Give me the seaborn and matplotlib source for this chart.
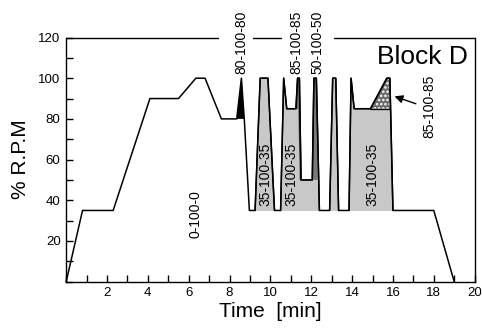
# Block D speed profile: % RPM against time, with the test blocks shaded
import numpy as np
import pandas as pd
import matplotlib
matplotlib.use("Agg")
import matplotlib.pyplot as plt
import seaborn as sns

sns.set_theme(style="white")
plt.rcParams['font.family'] = ['Liberation Sans', 'DejaVu Sans']
plt.rcParams['hatch.color'] = 'white'
plt.rcParams['hatch.linewidth'] = 1.2
for k in ['text.color', 'axes.labelcolor', 'xtick.color', 'ytick.color']:
    plt.rcParams[k] = 'black'

# profile (time in min, % RPM)
time = [0, 0.8, 2.3, 4.1, 5.5, 6.35, 6.8, 7.6, 8.35, 8.58, 8.72, 8.97,
        9.25, 9.5, 9.88, 10.2, 10.5, 10.65, 10.8, 11.25, 11.33, 11.42, 11.5,
        12.05, 12.13, 12.25, 12.4, 12.9, 13.05, 13.2, 13.34, 13.85, 13.95,
        14.1, 14.9, 15.7, 15.85, 16.0, 18.0, 19.0]
rpm = [0, 35, 35, 90, 90, 100, 100, 80, 80, 100, 80, 35,
       35, 100, 100, 35, 35, 100, 85, 85, 100, 100, 50,
       50, 100, 100, 35, 35, 100, 100, 35, 35, 100,
       85, 85, 100, 100, 35, 35, 0]

# index ranges of the shaded 35-100-35 blocks in the profile
blocks = [(12, 15), (16, 26), (27, 30), (31, 37)]

# dark spikes
spike_80_t = [8.35, 8.58, 8.72]
spike_80_r = [80, 100, 80]
spike_85_t = [11.27, 11.33, 11.42, 11.5, 11.43, 11.36]
spike_85_r = [85, 100, 100, 50, 50, 85]
spike_50_t = [12.05, 12.13, 12.25, 12.32]
spike_50_r = [50, 100, 100, 50]
tri_85_t = [14.9, 15.7, 15.85, 15.85]
tri_85_r = [85, 100, 100, 85]

df = pd.DataFrame({"Time": time, "RPM": rpm})

fig = plt.figure(figsize=(4.82, 3.31), dpi=100)
ax = fig.add_axes([0.1373, 0.149, 0.8474, 0.7377])

for i0, i1 in blocks:
    ax.fill_between(time[i0:i1 + 1], rpm[i0:i1 + 1], 35, color='#c8c8c8', lw=0)
ax.fill(spike_80_t, spike_80_r, facecolor='black', lw=0)
ax.fill(spike_85_t, spike_85_r, facecolor='#6e6e6e', lw=0)
ax.fill(spike_50_t, spike_50_r, facecolor='#7a7a7a', lw=0)
ax.fill(tri_85_t, tri_85_r, facecolor='#6a6a6a', hatch='....', lw=0)

# block outlines and the 35 % baseline under them
for i0, i1 in blocks:
    ax.plot(time[i0:i1 + 1], rpm[i0:i1 + 1], color='black', lw=1.0)
ax.plot([tri_85_t[2], tri_85_t[0]], [85, 85], color='black', lw=0.9)
sns.lineplot(data=df, x="Time", y="RPM", sort=False, estimator=None,
             color='black', lw=1.1, ax=ax, clip_on=False)

ax.set_xlim(0, 20)
ax.set_ylim(0, 120)
ax.set_xticks(np.arange(0, 21, 1))
ax.set_xticklabels(['' if v % 2 or v == 0 else str(v) for v in range(21)])
ax.set_yticks(np.arange(0, 121, 10))
ax.set_yticklabels(['' if v % 20 or v == 0 else str(v) for v in range(0, 121, 10)])
ax.tick_params(direction='in', length=5, width=1, color='black',
               labelsize=9.5, pad=4, bottom=True, left=True)

for side in ['left', 'bottom', 'right']:
    ax.spines[side].set_color('black')
    ax.spines[side].set_linewidth(1.0)
ax.spines['top'].set_visible(False)
for x0, x1 in [(0, 7.45), (9.14, 10.51), (13.1, 20)]:
    ax.plot([x0, x1], [120, 120], color='black', lw=1.0, clip_on=False)

ax.set_xlabel('Time  [min]', fontsize=15, labelpad=2)
ax.set_ylabel('% R.P.M', fontsize=15, labelpad=6)

ax.text(19.65, 110.5, 'Block D', fontsize=19, ha='right', va='center')

lab = dict(rotation=90, fontsize=10, ha='center')
for x in [9.75, 11.05, 14.98]:
    ax.text(x, 53, '35-100-35', va='center', **lab)
ax.text(6.31, 33, '0-100-0', va='center', **lab)
ax.text(8.6, 102.3, '80-100-80', va='bottom', clip_on=False, **lab)
ax.text(11.27, 102.3, '85-100-85', va='bottom', clip_on=False, **lab)
ax.text(12.28, 102.3, '50-100-50', va='bottom', clip_on=False, **lab)
ax.text(17.8, 86.2, '85-100-85', va='center', **lab)
ax.annotate('', xy=(15.95, 91.5), xytext=(17.25, 87),
            arrowprops=dict(arrowstyle='-|>', color='black', lw=1,
                            mutation_scale=12))

fig.savefig('out.png', dpi=100)
